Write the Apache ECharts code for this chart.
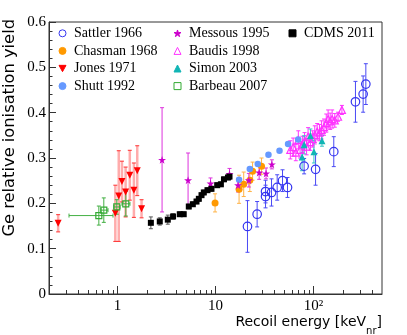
<!DOCTYPE html>
<html>
<head>
<meta charset="utf-8">
<script src="https://cdn.jsdelivr.net/npm/echarts@6/dist/echarts.min.js"></script>
<style>html,body{margin:0;padding:0;background:#fff}#main{width:407px;height:335px}</style>
</head>
<body>
<div id="main"></div>
<script>
var chartDom = document.getElementById('main');
var myChart = echarts.init(chartDom);
var option;

// axis ticks
var xMajorTicks = [1, 10, 100];
var xMinorTicks = [0.3, 0.4, 0.5, 0.6, 0.7, 0.8, 0.9, 2, 3, 4, 5, 6, 7, 8, 9,
  20, 30, 40, 50, 60, 70, 80, 90, 200, 300, 400];

// Sattler 1966
var sattlerE = [21.2, 26.6, 32.4, 32.4, 37.3, 42.6, 48.3, 54.3, 80.2, 105, 161, 268, 321, 342];
var sattlerY = [0.149, 0.176, 0.215, 0.226, 0.224, 0.235, 0.250, 0.235, 0.282, 0.275, 0.314, 0.424, 0.441, 0.463];
var sattlerErr = [0.057, 0.028, 0.025, 0.025, 0.03, 0.028, 0.024, 0.022, 0.017, 0.035, 0.033, 0.045, 0.04, 0.045];

// Chasman 1968
var chasmanE = [9.9, 17.4, 19.4, 22.4, 23.9, 29.5];
var chasmanY = [0.201, 0.231, 0.242, 0.251, 0.271, 0.282];
var chasmanErr = [0.02, 0.031, 0.027, 0.025, 0.02, 0.018];

// Jones 1971
var jonesE = [0.248, 0.95, 1.03, 1.11, 1.21, 1.335, 1.47, 1.59, 1.76];
var jonesY = [0.156, 0.178, 0.216, 0.248, 0.225, 0.262, 0.229, 0.272, 0.188];
var jonesErr = [0.019, 0.062, 0.1, 0.045, 0.055, 0.055, 0.06, 0.055, 0.02];

// Shutt 1992
var shuttE = [17.4, 22.4, 27.0, 34.7, 45, 55, 69.7];
var shuttY = [0.252, 0.276, 0.287, 0.307, 0.316, 0.331, 0.341];

// Messous 1995
var messousE = [2.85, 5.25, 8.9, 13.9, 17.0, 21.9, 27.9, 32.8, 37.6];
var messousY = [0.296, 0.251, 0.244, 0.265, 0.240, 0.251, 0.268, 0.266, 0.286];
var messousErr = [0.115, 0.06, 0.012, 0.012, 0.015, 0.015, 0.015, 0.012, 0.01];

// Baudis 1998
var baudisE = [58, 62, 66, 70, 73, 77, 81, 85, 88, 93, 98, 103, 109, 115, 121, 128, 135, 141, 148, 155, 165, 178, 195];
var baudisY = [0.318, 0.324, 0.312, 0.340, 0.318, 0.330, 0.336, 0.325, 0.347, 0.335, 0.342, 0.351, 0.358,
  0.356, 0.362, 0.368, 0.377, 0.386, 0.381, 0.386, 0.383, 0.391, 0.406];
var baudisErr = [0.02, 0.02, 0.018, 0.02, 0.018, 0.018, 0.02, 0.018, 0.02, 0.018, 0.018, 0.02, 0.018,
  0.018, 0.02, 0.018, 0.02, 0.02, 0.018, 0.02, 0.015, 0.01, 0.01];

// Simon 2003
var simonE = [76.5, 80.2, 93, 101, 122];
var simonY = [0.302, 0.329, 0.349, 0.314, 0.338];
var simonErr = [0.03, 0.02, 0.015, 0.025, 0.012];

// Barbeau 2007
var barbeauE = [0.645, 0.725, 0.984, 1.215];
var barbeauY = [0.173, 0.185, 0.192, 0.199];
var barbeauErr = [0.021, 0.027, 0.016, 0.027];
var barbeauELo = [0.32, 0.68, 0.92, 1.11];
var barbeauEHi = [0.9, 0.8, 1.06, 1.34];

// CDMS 2011
var cdmsE = [2.19, 2.7, 3.26, 3.69, 4.32, 4.74, 5.34, 5.87, 6.4, 6.76, 7.2, 7.6, 8.28, 9.1, 10.4, 11.35, 12.2, 13.4, 13.9];
var cdmsY = [0.157, 0.160, 0.164, 0.171, 0.176, 0.176, 0.193, 0.198, 0.204, 0.210, 0.218, 0.224, 0.229, 0.232,
  0.240, 0.242, 0.253, 0.257, 0.259];
var cdmsErr = [0.013, 0.008, 0.01, 0.006, 0.005, 0.005, 0.005, 0.005, 0.005, 0.005, 0.005, 0.005, 0.005, 0.005,
  0.005, 0.005, 0.005, 0.005, 0.005];

var starPath = 'path://M50,0 L61,35 L98,35 L68,57 L79,91 L50,70 L21,91 L32,57 L2,35 L39,35 Z';
var downTri = 'path://M0,0 L10,0 L5,9 Z';
var serif = 'Liberation Serif';
var sans = 'DejaVu Sans';

function markers(name, xs, ys, symbol, size, fill, stroke) {
  var hollow = !fill;
  return {
    type: 'scatter', name: name, silent: true, z: 3,
    data: xs.map(function (x, i) { return [x, ys[i]]; }),
    symbol: symbol, symbolSize: size,
    itemStyle: {
      color: hollow ? 'rgba(255,255,255,0)' : fill,
      borderColor: hollow ? stroke : fill,
      borderWidth: hollow ? 1.2 : 0,
      opacity: 1
    },
    emphasis: { disabled: true }
  };
}

function errorBars(name, xs, ys, err, xLo, xHi, color, width, capColor) {
  var data = xs.map(function (x, i) {
    return [x, ys[i], ys[i] - err[i], ys[i] + err[i], xLo ? xLo[i] : x, xHi ? xHi[i] : x];
  });
  return {
    type: 'custom', name: name + ' errors', silent: true, z: 2,
    data: data,
    encode: { x: 0, y: 1 },
    renderItem: function (params, api) {
      var x = api.value(0), y = api.value(1);
      var c = api.coord([x, y]);
      var lo = api.coord([x, api.value(2)]);
      var hi = api.coord([x, api.value(3)]);
      var l = api.coord([api.value(4), y]);
      var r = api.coord([api.value(5), y]);
      var bar = { stroke: color, lineWidth: width };
      var cap = { stroke: capColor || color, lineWidth: 1 };
      var ch = [];
      if (lo[1] - hi[1] > 1) {
        ch.push({ type: 'line', shape: { x1: c[0], y1: lo[1], x2: c[0], y2: hi[1] }, style: bar });
        ch.push({ type: 'line', shape: { x1: c[0] - 2, y1: lo[1], x2: c[0] + 2, y2: lo[1] }, style: cap });
        ch.push({ type: 'line', shape: { x1: c[0] - 2, y1: hi[1], x2: c[0] + 2, y2: hi[1] }, style: cap });
      }
      if (r[0] - l[0] > 1) {
        ch.push({ type: 'line', shape: { x1: l[0], y1: c[1], x2: r[0], y2: c[1] }, style: bar });
        ch.push({ type: 'line', shape: { x1: l[0], y1: c[1] - 2, x2: l[0], y2: c[1] + 2 }, style: cap });
        ch.push({ type: 'line', shape: { x1: r[0], y1: c[1] - 2, x2: r[0], y2: c[1] + 2 }, style: cap });
      }
      return { type: 'group', children: ch };
    }
  };
}

function legendCol(left, names) {
  return {
    data: names, orient: 'vertical', left: left, top: 26.3, padding: 0,
    itemWidth: 7, itemHeight: 7, itemGap: 3.6, selectedMode: false,
    itemStyle: { borderWidth: 1 },
    textStyle: { fontFamily: serif, fontSize: 14, color: '#000', lineHeight: 14, padding: [0, 0, 0, 3] }
  };
}

var axisColor = '#333';

option = {
  animation: false,
  grid: { left: 49, right: 25, top: 22, bottom: 41, show: true, borderColor: axisColor, borderWidth: 1 },
  xAxis: [
    {
      type: 'log', logBase: 10, min: 0.2, max: 500, position: 'bottom',
      axisLine: { onZero: false, lineStyle: { color: axisColor } },
      axisTick: { inside: true, length: 8, customValues: xMajorTicks, lineStyle: { color: axisColor } },
      axisLabel: {
        customValues: xMajorTicks, margin: 5, fontFamily: serif, fontSize: 15, color: '#000',
        formatter: function (v) { var r = Math.round(v); return r === 100 ? '10\u00B2' : String(r); }
      },
      splitLine: { show: false }
    },
    {
      type: 'log', logBase: 10, min: 0.2, max: 500, position: 'bottom',
      axisLine: { show: false, onZero: false },
      axisTick: { inside: true, length: 4, customValues: xMinorTicks, lineStyle: { color: axisColor } },
      axisLabel: { show: false },
      splitLine: { show: false }
    }
  ],
  yAxis: {
    type: 'value', min: 0, max: 0.6, interval: 0.1,
    axisLine: { show: true, onZero: false, lineStyle: { color: axisColor } },
    axisTick: { inside: true, length: 7, lineStyle: { color: axisColor } },
    minorTick: { show: true, splitNumber: 5, length: 3.5, lineStyle: { color: axisColor } },
    axisLabel: {
      margin: 3, fontFamily: serif, fontSize: 15, color: '#000',
      formatter: function (v) { return v === 0 ? '0' : v.toFixed(1); }
    },
    splitLine: { show: false }
  },
  legend: [
    legendCol(58.5, ['Sattler 1966', 'Chasman 1968', 'Jones 1971', 'Shutt 1992']),
    legendCol(173.5, ['Messous 1995', 'Baudis 1998', 'Simon 2003', 'Barbeau 2007']),
    legendCol(288.5, ['CDMS 2011'])
  ],
  graphic: [
    {
      type: 'text', x: 382, y: 322,
      style: {
        text: 'Recoil energy [keV{n|nr}]', align: 'right', verticalAlign: 'middle',
        fontFamily: sans, fontSize: 14, fill: '#000',
        rich: { n: { fontFamily: sans, fontSize: 10, padding: [19, 0, 0, 0] } }
      }
    },
    {
      type: 'text', x: 10, y: 19, rotation: Math.PI / 2,
      style: {
        text: 'Ge relative ionisation yield', align: 'right', verticalAlign: 'middle',
        fontFamily: sans, fontSize: 16.3, fill: '#000'
      }
    }
  ],
  series: [
    errorBars('Baudis 1998', baudisE, baudisY, baudisErr, null, null, '#ff33ff', 1),
    markers('Baudis 1998', baudisE, baudisY, 'triangle', 7, null, '#ff33ff'),
    errorBars('Sattler 1966', sattlerE, sattlerY, sattlerErr, null, null, '#4a4af5', 1),
    markers('Sattler 1966', sattlerE, sattlerY, 'circle', 8.5, null, '#3535f0'),
    errorBars('Chasman 1968', chasmanE, chasmanY, chasmanErr, null, null, '#ffb347', 1),
    markers('Chasman 1968', chasmanE, chasmanY, 'circle', 7, '#ff9900'),
    errorBars('Jones 1971', jonesE, jonesY, jonesErr, null, null, 'rgba(255,70,70,0.45)', 2.5, '#ff3030'),
    markers('Jones 1971', jonesE, jonesY, downTri, 7, '#ff0000'),
    markers('Shutt 1992', shuttE, shuttY, 'circle', 6.5, '#6699ff'),
    errorBars('Messous 1995', messousE, messousY, messousErr, null, null, '#dd33dd', 1),
    markers('Messous 1995', messousE, messousY, starPath, 8, '#cc00cc'),
    errorBars('Simon 2003', simonE, simonY, simonErr, null, null, '#33c4c4', 1),
    markers('Simon 2003', simonE, simonY, 'triangle', 7, '#11b5b5'),
    errorBars('Barbeau 2007', barbeauE, barbeauY, barbeauErr, barbeauELo, barbeauEHi, '#44b044', 1),
    markers('Barbeau 2007', barbeauE, barbeauY, 'rect', 6, null, '#33aa33'),
    errorBars('CDMS 2011', cdmsE, cdmsY, cdmsErr, null, null, '#555', 1),
    markers('CDMS 2011', cdmsE, cdmsY, 'rect', 6, '#000')
  ]
};

option && myChart.setOption(option);
</script>
</body>
</html>
